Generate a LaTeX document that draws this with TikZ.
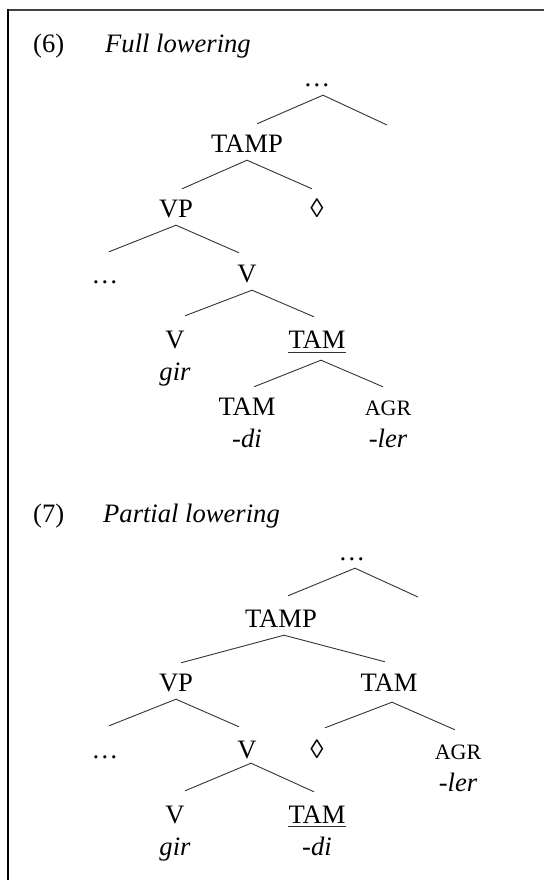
\documentclass[tikz,border=0pt]{standalone}
\usepackage{fontspec}
\setmainfont{Liberation Serif}
\begin{document}
\begin{tikzpicture}[x=1pt,y=-1pt,
  cat/.style={font=\fontsize{26.6}{32}\selectfont, text height=28pt, text depth=8pt, inner sep=0pt, anchor=base},
  agr/.style={cat, font=\fontsize{22}{26}\selectfont},
  word/.style={font=\fontsize{26.6}{32}\selectfont\itshape, inner sep=0pt, anchor=base},
  head/.style={font=\fontsize{26.6}{32}\selectfont, inner sep=0pt, anchor=base west},
  br/.style={line width=0.9pt, draw=black!80},
  ul/.style={line width=1pt, draw=black!80}]
\useasboundingbox (0,0) rectangle (543,880);
% frame
\draw[line width=1.3pt, draw=black!75] (544,10) -- (8,10);
\draw[line width=1.6pt] (8,9.35) -- (8,881);

% ---------- (6) ----------
\node[head] (n6) at (33,53) {(6)};
\node[head, font=\fontsize{26.6}{32}\selectfont\itshape] (t6) at (105,53) {Full lowering};

\node[cat] (d1) at (317,87) {…};
\node[cat] (tamp1) at (247,152) {TAMP};
\coordinate (r1) at (387,125);
\draw[br] ([xshift=10pt]tamp1.north) -- ([xshift=6pt]d1.south) -- (r1);

\node[cat] (vp1) at (176,217) {VP};
\node[cat] (dia1) at (317,217) {◊};
\draw[br] ([xshift=6pt]vp1.north) -- (tamp1.south) -- ([xshift=-5pt]dia1.north);

\node[cat] (d2) at (105,283) {…};
\node[cat] (v1) at (247,282) {V};
\draw[br] ([xshift=4pt,yshift=3pt]d2.north) -- (vp1.south) -- ([xshift=-8pt,yshift=1pt]v1.north);

\node[cat] (v2) at (175,348) {V};
\node[cat] (tam1) at (317,348) {TAM};
\draw[ul] ([yshift=-4pt]tam1.base west) -- ([yshift=-4pt]tam1.base east);
\draw[br] ([xshift=10pt,yshift=4pt]v2.north) -- ([xshift=5pt]v1.south) -- ([xshift=-3pt,yshift=3pt]tam1.north);
\node[word] (gir1) at (175,380) {gir};

\node[cat] (tam2) at (247,415) {TAM};
\node[agr] (agr1) at (388,415) {AGR};
\draw[br] ([xshift=7pt]tam2.north) -- ([xshift=4pt,yshift=-4pt]tam1.south) -- ([xshift=-5pt]agr1.north);
\node[word] (di1) at (247,447) {-di};
\node[word] (ler1) at (388,447) {-ler};

% ---------- (7) ----------
\node[head] (n7) at (33,522) {(7)};
\node[head, font=\fontsize{26.6}{32}\selectfont\itshape] (t7) at (103,522) {Partial lowering};

\node[cat] (d3) at (352,560) {…};
\node[cat] (tamp2) at (281,627) {TAMP};
\coordinate (r2) at (418,597);
\draw[br] ([xshift=7pt,yshift=3pt]tamp2.north) -- ([xshift=3pt]d3.south) -- (r2);

\node[cat] (vp2) at (176,691) {VP};
\node[cat] (tam3) at (389,691) {TAM};
\draw[br] ([xshift=5pt]vp2.north) -- ([xshift=3pt]tamp2.south) -- ([xshift=-4pt,yshift=1pt]tam3.north);

\node[cat] (d4) at (105,758) {…};
\node[cat] (v3) at (247,758) {V};
\node[cat] (dia2) at (317,758) {◊};
\node[agr] (agr2) at (458,759) {AGR};
\draw[br] ([xshift=4pt,yshift=4pt]d4.north) -- (vp2.south) -- ([xshift=-8pt,yshift=3pt]v3.north);
\draw[br] ([xshift=8pt,yshift=2pt]dia2.north) -- ([xshift=3pt,yshift=-3pt]tam3.south) -- ([xshift=-3pt,yshift=1pt]agr2.north);
\node[word] (ler2) at (458,791) {-ler};

\node[cat] (v4) at (175,823) {V};
\node[cat] (tam4) at (317,823) {TAM};
\draw[ul] ([yshift=-3.5pt]tam4.base west) -- ([yshift=-3.5pt]tam4.base east);
\draw[br] ([xshift=10pt,yshift=4pt]v4.north) -- ([xshift=4pt,yshift=3pt]v3.south) -- ([xshift=-3pt,yshift=3pt]tam4.north);
\node[word] (gir2) at (175,855) {gir};
\node[word] (di2) at (317,855) {-di};
\end{tikzpicture}
\end{document}
